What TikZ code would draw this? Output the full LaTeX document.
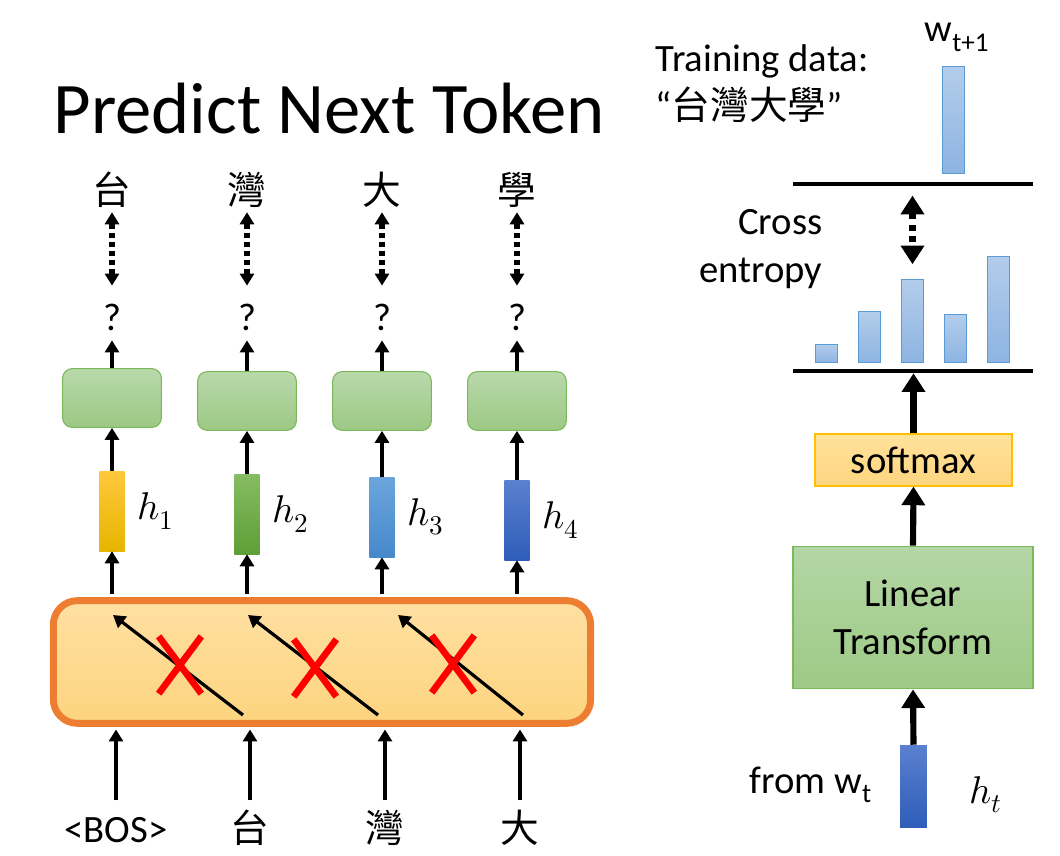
\documentclass[tikz,border=0pt]{standalone}
\usepackage{fontspec}
\usepackage{unicode-math}
\setmainfont{Carlito}
\newfontfamily\cjk{Noto Sans CJK TC}
\usetikzlibrary{arrows.meta,positioning,shapes.misc}
\definecolor{decA}{HTML}{B9D9AB}
\definecolor{decB}{HTML}{9CC884}
\definecolor{decline}{HTML}{7BB85A}
\definecolor{encA}{HTML}{FFE0A3}
\definecolor{encB}{HTML}{FDD47E}
\definecolor{encline}{HTML}{ED7D31}
\definecolor{xred}{HTML}{FF0000}
\definecolor{hyA}{HTML}{FFC83D}
\definecolor{hyB}{HTML}{E6B600}
\definecolor{hgA}{HTML}{86BC63}
\definecolor{hgB}{HTML}{5E9E37}
\definecolor{hbA}{HTML}{6BA5DC}
\definecolor{hbB}{HTML}{4689CC}
\definecolor{hdA}{HTML}{5B80CF}
\definecolor{hdB}{HTML}{2E5DB9}
\definecolor{barA}{HTML}{B3CDEB}
\definecolor{barB}{HTML}{8DB4E2}
\definecolor{barline}{HTML}{5B9BD5}
\definecolor{smA}{HTML}{FFE29B}
\definecolor{smB}{HTML}{FFD580}
\definecolor{smline}{HTML}{FFC000}
\definecolor{linA}{HTML}{B4D6A5}
\definecolor{linB}{HTML}{9DCA85}
\definecolor{linline}{HTML}{7DB85B}

\begin{document}
\begin{tikzpicture}[x=0.75pt,y=-0.75pt,
  every node/.style={font=\fontsize{29}{36}\selectfont},
  ttl/.style={font=\fontsize{54.5}{62}\selectfont},
  tok/.style={font=\fontsize{29}{36}\selectfont\cjk,inner sep=0pt,text height=25pt,text depth=4pt},
  dec/.style={draw=decline,line width=0.8pt,rounded corners=7pt,top color=decA,bottom color=decB,minimum width=74pt,minimum height=44pt},
  enc/.style={draw=encline,line width=5.2pt,rounded corners=18pt,top color=encA,bottom color=encB,minimum width=403pt,minimum height=92pt},
  hvec/.style={inner sep=0pt,minimum width=19pt,minimum height=60pt},
  xmark/.style={cross out,draw=xred,line width=5pt,inner sep=0pt,minimum width=27pt,minimum height=38pt},
  prob/.style={draw=barline,line width=0.8pt,top color=barA,bottom color=barB,inner sep=0pt,minimum width=17pt,anchor=south},
  rule/.style={fill=black,inner sep=0pt,minimum width=180pt,minimum height=3pt},
  ar/.style={-{Triangle[width=10.5pt,length=9pt]},line width=2.4pt},
  dar/.style={{Triangle[width=10.5pt,length=9pt]}-{Triangle[width=10.5pt,length=9pt]},line width=3.8pt,dash pattern=on 3.8pt off 3pt},
  big/.style={-{Triangle[width=17pt,length=14pt]},line width=4.6pt},
  bigd/.style={{Triangle[width=17pt,length=14pt]}-{Triangle[width=17pt,length=14pt]},line width=4.6pt,dash pattern=on 4.6pt off 4pt}]
\useasboundingbox (0,0) rectangle (1060,856);
\node[ttl,anchor=base] (title) at (329,133) {Predict Next Token};
\node[enc] (enc) at (322,662) {};
\node[tok,font=\fontsize{29}{36}\selectfont] (in1) at (116,828) {<BOS>};
\node[tok] (in2) at (250,828) {台};
\node[tok] (in3) at (385,828) {灣};
\node[tok] (in4) at (520,828) {大};
\draw[ar,shorten <=6pt,shorten >=2pt] (in1.north) -- (in1.north |- enc.south);
\draw[ar,shorten <=6pt,shorten >=2pt] (in2.north) -- (in2.north |- enc.south);
\draw[ar,shorten <=6pt,shorten >=2pt] (in3.north) -- (in3.north |- enc.south);
\draw[ar,shorten <=6pt,shorten >=2pt] (in4.north) -- (in4.north |- enc.south);
\coordinate (s1) at (243,715); \coordinate (e1) at (113,615);
\coordinate (s2) at (378,715); \coordinate (e2) at (248,615);
\coordinate (s3) at (523,715); \coordinate (e3) at (398,615);
\draw[ar] (s1) -- (e1); \draw[ar] (s2) -- (e2); \draw[ar] (s3) -- (e3);
\node[xmark] (x1) at (180,665) {};
\node[xmark] (x2) at (315,668) {};
\node[xmark] (x3) at (453,664) {};
\node[hvec,top color=hyA,bottom color=hyB] (h1) at (112,511) {};
\node[hvec,top color=hgA,bottom color=hgB] (h2) at (247,514) {};
\node[hvec,top color=hbA,bottom color=hbB] (h3) at (382,517) {};
\node[hvec,top color=hdA,bottom color=hdB] (h4) at (517,520) {};
\node[right=6pt of h1] (lh1) {$h_1$};
\node[right=6pt of h2] (lh2) {$h_2$};
\node[right=6pt of h3] (lh3) {$h_3$};
\node[right=6pt of h4] (lh4) {$h_4$};
\draw[ar,shorten <=2.6pt] (h1.south |- enc.north) -- (h1.south);
\draw[ar,shorten <=2.6pt] (h2.south |- enc.north) -- (h2.south);
\draw[ar,shorten <=2.6pt] (h3.south |- enc.north) -- (h3.south);
\draw[ar,shorten <=2.6pt] (h4.south |- enc.north) -- (h4.south);
\node[dec] (d1) at (112,398) {};
\node[dec] (d2) at (247,401) {};
\node[dec] (d3) at (382,401) {};
\node[dec] (d4) at (517,401) {};
\draw[ar] (h1.north) -- (d1.south); \draw[ar] (h2.north) -- (d2.south);
\draw[ar] (h3.north) -- (d3.south); \draw[ar] (h4.north) -- (d4.south);
\node (q1) at (112,317) {?};
\node (q2) at (247,317) {?};
\node (q3) at (382,317) {?};
\node (q4) at (517,317) {?};
\draw[ar,shorten >=4pt] (d1.north) -- (q1.south); \draw[ar,shorten >=4pt] (d2.north) -- (q2.south);
\draw[ar,shorten >=4pt] (d3.north) -- (q3.south); \draw[ar,shorten >=4pt] (d4.north) -- (q4.south);
\node[tok] (y1) at (112,190) {台};
\node[tok] (y2) at (247,190) {灣};
\node[tok] (y3) at (382,190) {大};
\node[tok] (y4) at (517,190) {學};
\draw[dar,shorten <=10pt,shorten >=2pt] (q1.north) -- (y1.south);
\draw[dar,shorten <=10pt,shorten >=2pt] (q2.north) -- (y2.south);
\draw[dar,shorten <=10pt,shorten >=2pt] (q3.north) -- (y3.south);
\draw[dar,shorten <=10pt,shorten >=2pt] (q4.north) -- (y4.south);
\node[anchor=base west] (train) at (651,72) {Training data:};
\node[anchor=base west] (quote) at (651,119) {“{\cjk 台灣大學}”};
\node[anchor=base] (wnext) at (957,42) {w\textsubscript{t+1}};
\node[prob,minimum height=80.25pt] (tgt) at (953.5,174) {};
\node[rule] (top) at (913,184) {};
\node[prob,minimum height=13.5pt] (b1) at (826.5,363) {};
\node[prob,minimum height=38.25pt] (b2) at (869.5,363) {};
\node[prob,minimum height=62.25pt] (b3) at (912.5,363) {};
\node[prob,minimum height=36pt] (b4) at (955.5,363) {};
\node[prob,minimum height=79.5pt] (b5) at (998.5,363) {};
\node[rule] (bot) at (913,371) {};
\node[anchor=east,align=right] (ce) at (827,249) {Cross\\entropy};
\draw[bigd,shorten <=7pt,shorten >=11pt] (b3.north |- top.south) -- (b3.north);
\node[draw=smline,line width=0.8pt,top color=smA,bottom color=smB,minimum width=147.75pt,minimum height=39pt] (smax) at (913.5,460) {softmax};
\draw[big] (smax.north) -- (smax.north |- bot.south);
\node[draw=linline,line width=0.8pt,top color=linA,bottom color=linB,minimum width=180pt,minimum height=107pt,align=center] (lin) at (913,617.5) {Linear\\Transform};
\draw[big] (lin.north) -- (smax.south);
\node[hvec,top color=hdA,bottom color=hdB,minimum width=20pt,minimum height=61.5pt] (ht) at (913.5,786) {};
\draw[big] (ht.north) -- (lin.south);
\node[anchor=base west] (from) at (745,793) {from w\textsubscript{t}};
\node[anchor=base west] (lht) at (965,803) {$h_t$};
\end{tikzpicture}
\end{document}
